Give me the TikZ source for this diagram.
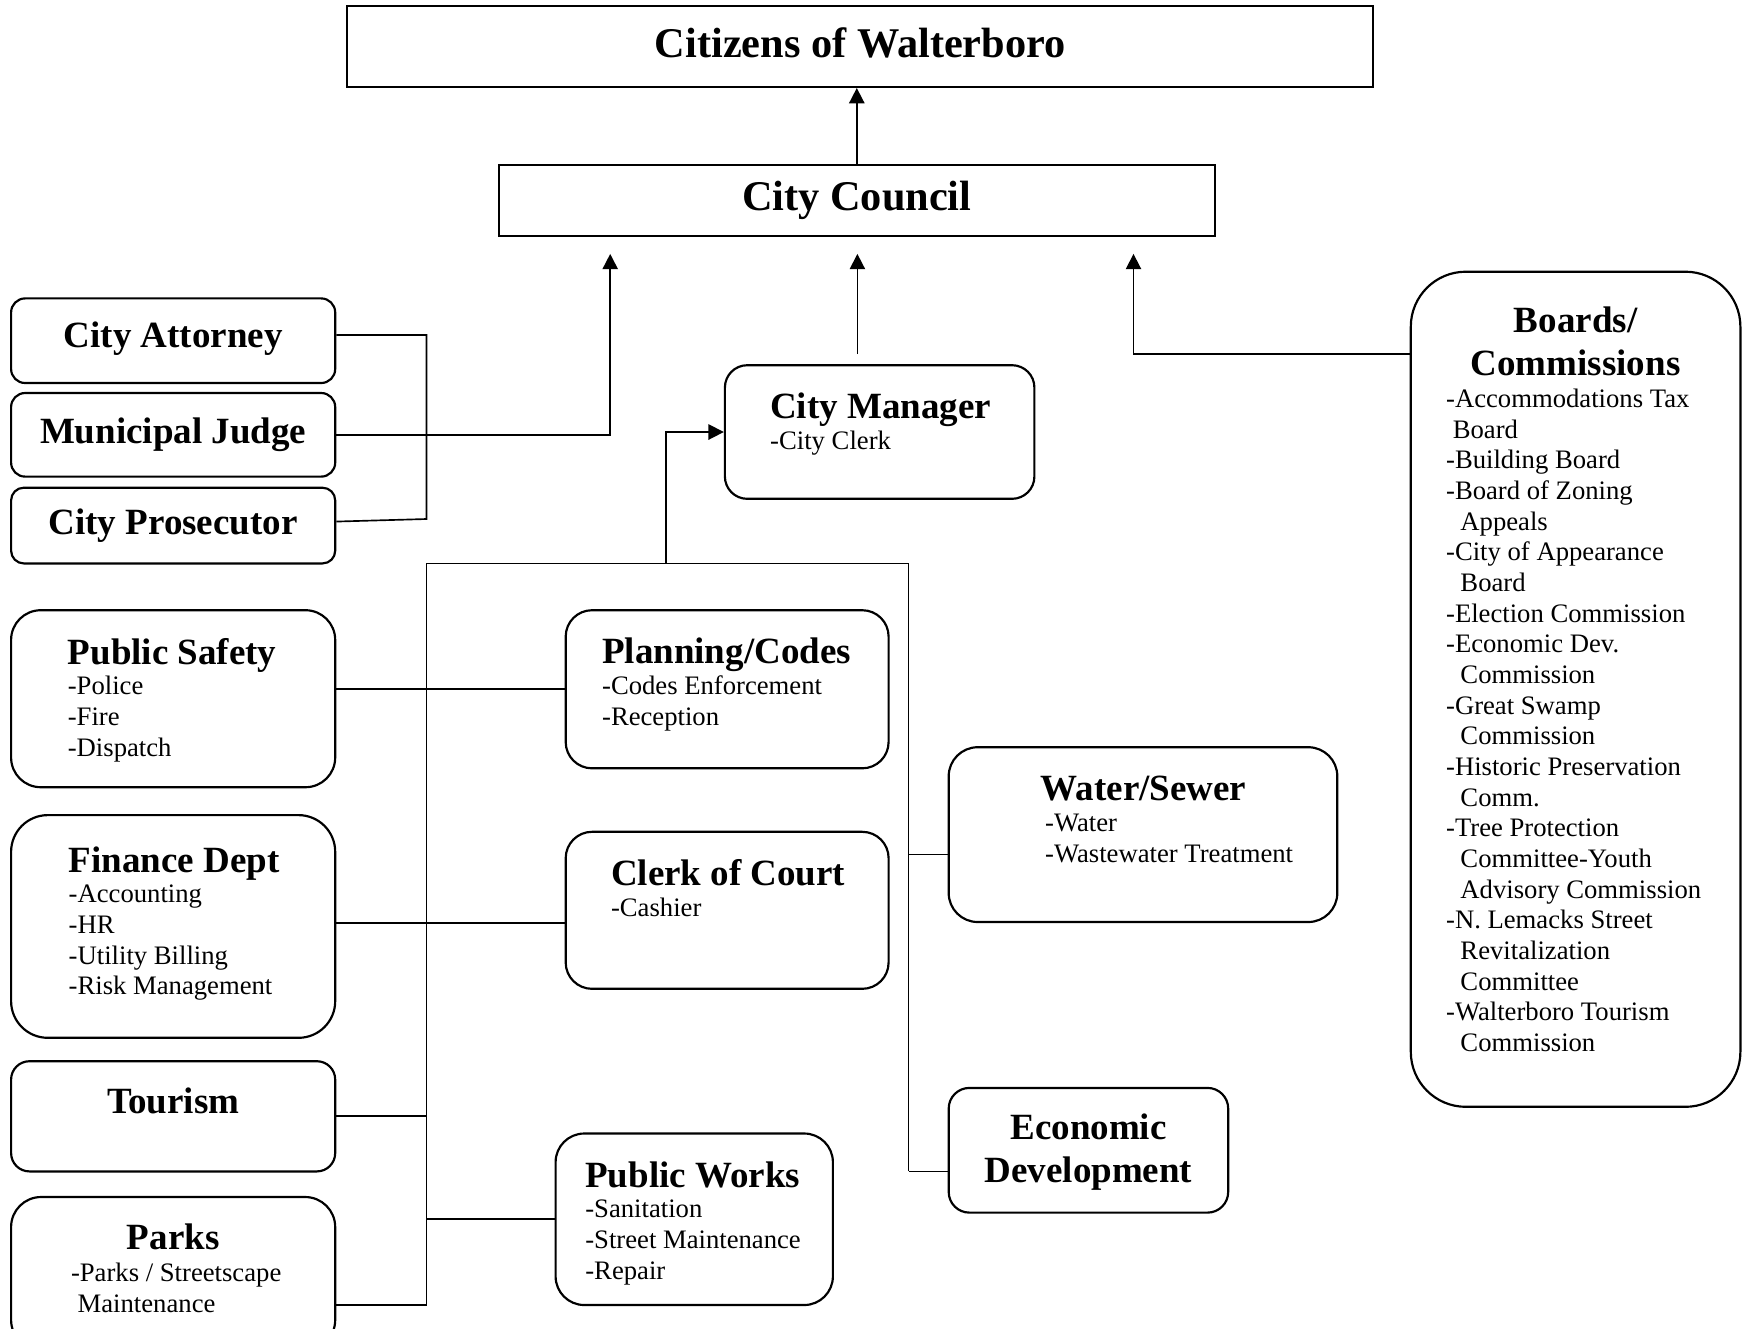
\documentclass[tikz,border=0pt]{standalone}
\usepackage{fontspec}
\setmainfont{Liberation Serif}
\usetikzlibrary{fit,arrows.meta}
\newcommand\hd[1]{{\fontsize{11.1}{9.2}\selectfont\bfseries #1}}

\begin{document}
\begin{tikzpicture}[x=0.3pt,y=-0.3pt,line width=0.5pt,
    >={Triangle[length=4.6pt,width=4.6pt]},
    cbox/.style={draw,line width=0.65pt,inner sep=0pt},
    dept/.style={draw,line width=0.65pt,inner sep=0pt,rounded corners=#1},
    big/.style={inner sep=0pt,font=\fontsize{12.7}{15}\selectfont\bfseries},
    txt/.style={anchor=north west,inner sep=0pt,align=left,font=\fontsize{8}{9.2}\selectfont},
    hdl/.style={anchor=north,inner sep=0pt,align=center,font=\fontsize{11.1}{13}\selectfont\bfseries}]
    \useasboundingbox (0,0) rectangle (1746,1328);

    \node[cbox,fit={(347.4,5.6) (1373,86.9)}] (cit) {};
    \node[cbox,fit={(498.8,164.8) (1214.8,236.1)}] (cc) {};

    \node[dept=4.2pt,fit={(11.1,298.4) (335.2,383)}] (att) {};
    \node[dept=4.2pt,fit={(11.1,393) (335.2,476.6)}] (mj) {};
    \node[dept=3.8pt,fit={(11.1,487.7) (335.2,563.4)}] (pros) {};

    \node[dept=6.7pt,fit={(724.9,365.2) (1034.4,498.8)}] (mgr) {};
    \node[dept=8.9pt,fit={(11.1,610.2) (335.2,787.2)}] (ps) {};
    \node[dept=11pt,fit={(11.1,815.1) (335.2,1037.8)}] (fin) {};
    \node[dept=5.5pt,fit={(11.1,1061.2) (335.2,1171.4)}] (tour) {};
    \node[dept=9pt,fit={(11.1,1197) (335.2,1350)}] (pk) {};
    \node[dept=7.9pt,fit={(565.7,610.2) (888.6,768.3)}] (plan) {};
    \node[dept=7.9pt,fit={(565.7,831.8) (888.6,988.8)}] (clk) {};
    \node[dept=8.6pt,fit={(555.6,1133.5) (832.9,1305)}] (pw) {};
    \node[dept=8.7pt,fit={(948.7,747.2) (1337.3,922)}] (ws) {};
    \node[dept=6.2pt,fit={(948.7,1087.9) (1228.2,1212.6)}] (ed) {};
    \node[dept=16.5pt,fit={(1410.8,271.7) (1740.4,1106.8)}] (brd) {};

    \node[big] (cit-t) at ([yshift=1pt]cit) {Citizens of Walterboro};
    \node[big] (cc-t) at (cc) {City Council};
    \node[hdl,anchor=center] (att-t) at ([yshift=0.6pt]att) {City Attorney};
    \node[hdl,anchor=center] (mj-t) at (mj) {Municipal Judge};
    \node[hdl,anchor=center] (pros-t) at (pros) {City Prosecutor};

    \node[txt] (mgr-t) at (769.4,392.4) {\hd{City Manager}\\-City Clerk};
    \node[txt] (plan-t) at (601.3,637.4) {\hd{Planning/Codes}\\-Codes Enforcement\\-Reception};
    \node[txt] (clk-t) at (610.2,859) {\hd{Clerk of Court}\\-Cashier};
    \node[txt] (pw-t) at (584.5,1160.7) {\hd{Public Works}\\-Sanitation\\-Street Maintenance\\-Repair};
    \node[txt] (ws-t) at (1040,775.4) {\hd{Water/Sewer}\\\hspace*{1.3pt}-Water\\\hspace*{1.3pt}-Wastewater Treatment};
    \node[txt] (ps-t) at (67,637.4) {\hd{Public Safety}\\-Police\\-Fire\\-Dispatch};
    \node[txt] (fin-t) at (67.9,845.6) {\hd{Finance Dept}\\-Accounting\\-HR\\-Utility Billing\\-Risk Management};
    \node[hdl] (tour-t) at (173.2,1087.2) {Tourism};
    \node[hdl] (ed-t) at (1088.5,1112.8) {Economic\\Development};
    \node[hdl] (pk-h) at (173.2,1223) {Parks};
    \node[txt] (pk-t) at (70.2,1262) {-Parks / Streetscape\\\hspace*{2pt}Maintenance};
    \node[hdl] (brd-h) at (1575.6,305.5) {Boards/\\Commissions};
    \node[txt] (brd-t) at (1445.3,388) {-Accommodations Tax\\\hspace*{2pt}Board\\-Building Board\\-Board of Zoning\\\hspace*{4.3pt}Appeals\\-City of Appearance\\\hspace*{4.3pt}Board\\-Election Commission\\-Economic Dev.\\\hspace*{4.3pt}Commission\\-Great Swamp\\\hspace*{4.3pt}Commission\\-Historic Preservation\\\hspace*{4.3pt}Comm.\\-Tree Protection\\\hspace*{4.3pt}Committee-Youth\\\hspace*{4.3pt}Advisory Commission\\-N. Lemacks Street\\\hspace*{4.3pt}Revitalization\\\hspace*{4.3pt}Committee\\-Walterboro Tourism\\\hspace*{4.3pt}Commission};

    \coordinate (in-l) at (610.2,253.9);
    \coordinate (in-m) at (857.4,253.9);
    \coordinate (in-r) at (1133.5,253.9);
    \coordinate (mgr-up) at (857.4,354.1);
    \coordinate (lgl) at (426.5,519);
    \coordinate (mbus) at (665.9,563.4);
    \coordinate (lbus-t) at (426.5,563.4);
    \coordinate (rbus-t) at (908.6,563.4);
    \coordinate (lbus-b) at (426.5,1305);
    \coordinate (rbus-b) at (908.6,1171.4);

    \draw[->] (cc.north) -- (cc.north |- cit.south);
    \draw[->] (mj.east) -| (in-l);
    \draw[->] (mgr-up) -- (in-m);
    \draw[->] (brd.west |- mgr-up) -| (in-r);
    \draw ([yshift=1.7pt]att.east) -| (lgl) -- ([yshift=1.2pt]pros.east);
    \draw[->] (mbus) |- (mgr.west);
    \draw (lbus-b) -- (lbus-t) -- (rbus-t) -- (rbus-b);
    \draw (ps.east |- plan.west) -- (plan.west);
    \draw ([yshift=1pt]fin.east) -- ([yshift=1pt]fin.east -| clk.west);
    \draw (tour.east) -- (tour.east -| lbus-t);
    \draw (pw.west) -- (pw.west -| lbus-t);
    \draw (lbus-b) -- (lbus-b -| pk.east);
    \draw ([yshift=-6pt]ws.west) -- ([yshift=-6pt]ws.west -| rbus-t);
    \draw (rbus-b) -- (rbus-b -| ed.west);
\end{tikzpicture}
\end{document}
